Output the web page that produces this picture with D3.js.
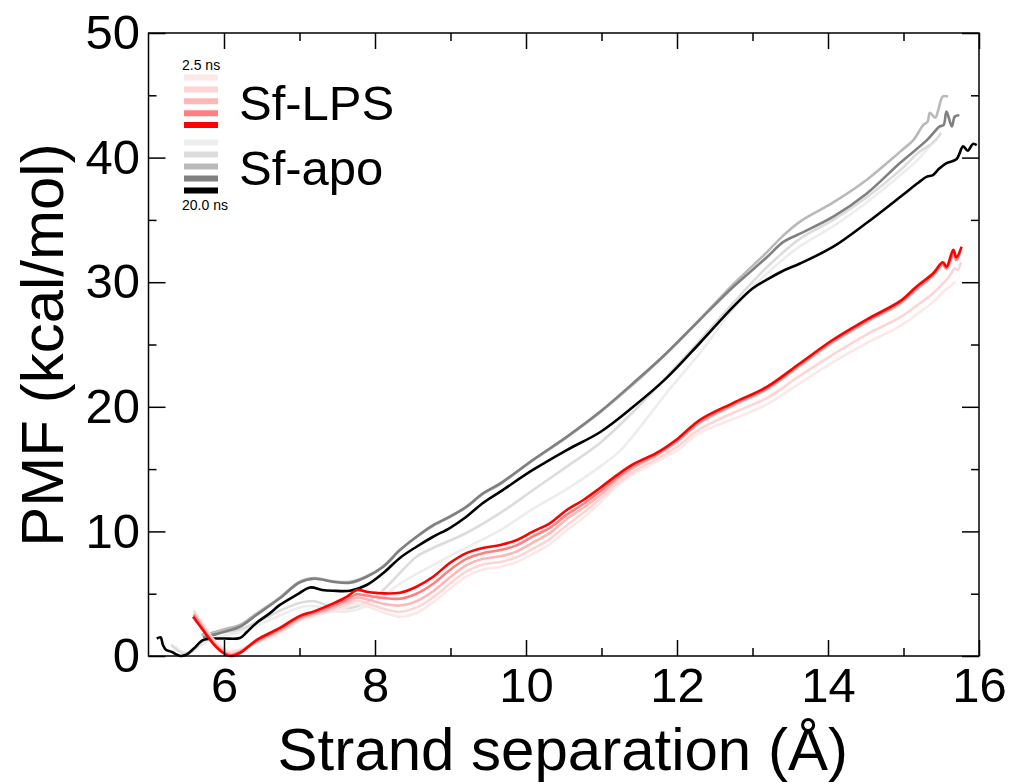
<!DOCTYPE html>
<html>
<head>
<meta charset="utf-8">
<script src="https://cdn.jsdelivr.net/npm/d3@7/dist/d3.min.js"></script>
<style>
  html, body { margin: 0; padding: 0; background: #fff; }
  svg { display: block; font-family: "Liberation Sans", Arial, Helvetica, sans-serif; }
</style>
</head>
<body>
<div id="chart"></div>
<script>
// PMF vs strand separation, Sf-LPS and Sf-apo at increasing sampling times

var xTicks = [6, 8, 10, 12, 14, 16];
var xMinor = [7, 9, 11, 13, 15];
var yTicks = [0, 10, 20, 30, 40, 50];
var yMinor = [5, 15, 25, 35, 45];

// Sf-LPS (red family), points are [separation, PMF]
var lps25 = [[5.6,3.7],[5.72,2.6],[5.85,1.4],[5.99,0.6],[6.08,0.35],[6.21,0.55],[6.43,1.05],[6.74,1.85],[7.0,2.8],[7.2,3.2],[7.44,3.6],[7.63,3.95],[7.76,4.2],[7.89,4.0],[8.11,3.5],[8.33,3.15],[8.55,3.45],[8.77,4.3],[8.99,5.4],[9.21,6.4],[9.43,6.95],[9.66,7.15],[9.88,7.55],[10.09,8.2],[10.32,9.0],[10.54,10.1],[10.76,11.1],[10.98,12.3],[11.2,13.6],[11.42,14.6],[11.73,15.6],[12.0,16.5],[12.3,17.9],[12.74,19.0],[13.19,20.2],[13.63,21.9],[14.07,23.6],[14.51,25.1],[14.96,26.5],[15.17,27.4],[15.39,28.4],[15.52,29.2],[15.6,29.6],[15.68,30.0]];
var lps5 = [[5.6,3.6],[5.72,2.5],[5.85,1.3],[5.99,0.5],[6.08,0.25],[6.21,0.45],[6.43,1.1],[6.74,1.95],[7.0,2.9],[7.2,3.3],[7.44,3.75],[7.63,4.15],[7.76,4.45],[7.89,4.25],[8.11,3.8],[8.33,3.55],[8.55,3.9],[8.77,4.7],[8.99,5.8],[9.21,6.8],[9.43,7.35],[9.66,7.55],[9.88,7.95],[10.09,8.6],[10.32,9.4],[10.54,10.5],[10.76,11.5],[10.98,12.6],[11.2,13.8],[11.42,14.8],[11.73,15.8],[12.0,16.8],[12.3,18.2],[12.74,19.5],[13.19,20.7],[13.63,22.5],[14.07,24.2],[14.51,25.8],[14.96,27.2],[15.17,28.1],[15.39,29.1],[15.52,29.9],[15.6,30.4],[15.68,31.1],[15.72,31.0],[15.76,31.6]];
var lps10 = [[5.6,3.4],[5.72,2.3],[5.85,1.2],[5.99,0.4],[6.08,0.15],[6.21,0.35],[6.43,1.15],[6.74,2.05],[7.0,3.0],[7.2,3.4],[7.44,3.9],[7.63,4.35],[7.76,4.7],[7.89,4.55],[8.11,4.2],[8.33,4.05],[8.55,4.4],[8.77,5.2],[8.99,6.3],[9.21,7.3],[9.43,7.8],[9.66,8.0],[9.88,8.4],[10.09,9.1],[10.32,9.9],[10.54,11.0],[10.76,11.9],[10.98,12.9],[11.2,14.1],[11.42,15.1],[11.73,16.1],[12.0,17.2],[12.3,18.7],[12.74,20.1],[13.19,21.4],[13.63,23.3],[14.07,25.2],[14.51,26.8],[14.96,28.3],[15.17,29.4],[15.39,30.5],[15.52,31.4],[15.57,31.1],[15.66,32.1],[15.7,31.7]];
var lps15 = [[5.6,3.3],[5.72,2.2],[5.85,1.1],[5.99,0.3],[6.08,0.05],[6.21,0.3],[6.43,1.2],[6.74,2.15],[7.0,3.1],[7.2,3.5],[7.44,4.05],[7.63,4.55],[7.76,4.95],[7.89,4.85],[8.11,4.65],[8.33,4.6],[8.55,5.0],[8.77,5.8],[8.99,6.9],[9.21,7.8],[9.43,8.25],[9.66,8.5],[9.88,8.9],[10.09,9.6],[10.32,10.3],[10.54,11.35],[10.76,12.2],[10.98,13.2],[11.2,14.3],[11.42,15.25],[11.73,16.2],[12.0,17.3],[12.3,18.8],[12.74,20.2],[13.19,21.5],[13.63,23.4],[14.07,25.3],[14.51,26.9],[14.96,28.4],[15.17,29.5],[15.39,30.6],[15.52,31.4],[15.57,31.1],[15.66,32.3],[15.7,31.8],[15.75,32.4]];
var lps20 = [[5.59,3.15],[5.72,2.09],[5.85,1.04],[5.99,0.24],[6.08,0.0],[6.21,0.24],[6.43,1.28],[6.74,2.25],[7.0,3.2],[7.2,3.6],[7.44,4.2],[7.63,4.76],[7.76,5.3],[7.89,5.16],[8.11,5.03],[8.33,5.08],[8.55,5.56],[8.77,6.36],[8.99,7.46],[9.21,8.26],[9.43,8.67],[9.66,8.91],[9.88,9.31],[10.09,9.98],[10.32,10.67],[10.54,11.72],[10.76,12.52],[10.98,13.48],[11.2,14.5],[11.42,15.4],[11.73,16.3],[12.0,17.4],[12.3,18.94],[12.74,20.3],[13.19,21.6],[13.63,23.5],[14.07,25.4],[14.51,27.0],[14.96,28.5],[15.17,29.64],[15.39,30.7],[15.52,31.6],[15.57,31.25],[15.66,32.6],[15.7,32.0],[15.77,32.85]];

// Sf-apo (grey family)
var apo25 = [[5.35,0.8],[5.45,0.3],[5.55,0.2],[5.7,0.9],[5.9,1.5],[6.2,1.9],[6.5,2.6],[6.8,3.4],[7.0,3.9],[7.2,4.0],[7.44,3.6],[7.67,3.6],[7.89,4.0],[8.11,4.8],[8.33,5.8],[8.77,7.3],[9.21,8.7],[9.66,10.1],[10.09,11.8],[10.54,13.4],[10.98,15.2],[11.25,16.5],[11.86,21.1],[12.3,24.3],[12.74,27.8],[13.05,29.9],[13.4,31.8],[13.63,32.9],[14.07,34.5],[14.51,36.4],[14.96,38.6],[15.2,39.9],[15.39,41.2],[15.45,41.5]];
var apo5 = [[5.3,0.9],[5.4,0.4],[5.5,0.2],[5.62,0.6],[5.8,1.6],[6.0,1.9],[6.2,2.1],[6.5,2.9],[6.8,3.8],[7.0,4.25],[7.2,4.4],[7.44,3.9],[7.67,3.85],[7.89,4.3],[8.11,5.3],[8.33,6.66],[8.55,7.97],[8.77,8.67],[9.21,9.87],[9.66,11.48],[10.09,13.3],[10.54,15.2],[10.98,17.1],[11.42,19.6],[11.86,22.4],[12.3,25.3],[12.74,28.3],[13.19,31.2],[13.63,33.5],[14.07,35.0],[14.51,36.8],[14.96,39.0],[15.2,40.4],[15.39,41.2],[15.5,42.0]];
var apo10 = [[5.7,1.7],[5.8,1.8],[6.04,2.2],[6.21,2.5],[6.43,3.4],[6.74,4.7],[7.0,5.95],[7.2,6.25],[7.44,6.0],[7.67,5.95],[7.89,6.4],[8.11,7.2],[8.33,8.5],[8.55,9.55],[8.77,10.45],[8.99,11.15],[9.21,11.95],[9.43,13.0],[9.66,13.8],[10.09,15.7],[10.54,17.55],[10.98,19.55],[11.42,21.8],[11.86,24.3],[12.3,27.0],[12.74,29.8],[13.19,32.4],[13.4,33.7],[13.63,34.86],[14.07,36.4],[14.51,38.2],[14.96,40.5],[15.13,41.4],[15.26,42.6],[15.32,42.9],[15.35,43.6],[15.42,43.2],[15.46,43.8],[15.52,44.9],[15.59,44.9]];
var apo15 = [[5.72,1.5],[5.77,1.55],[6.04,2.0],[6.21,2.35],[6.43,3.29],[6.74,4.63],[7.0,5.9],[7.2,6.2],[7.44,5.96],[7.67,5.88],[7.89,6.36],[8.11,7.17],[8.33,8.5],[8.55,9.57],[8.77,10.5],[8.99,11.18],[9.21,11.98],[9.43,13.06],[9.66,13.86],[10.09,15.73],[10.54,17.6],[10.98,19.6],[11.42,21.9],[11.86,24.3],[12.3,26.97],[12.74,29.6],[13.19,32.0],[13.4,33.2],[13.63,33.9],[14.07,35.26],[14.51,37.1],[14.96,39.6],[15.31,41.4],[15.48,42.5],[15.53,42.6],[15.57,43.7],[15.64,42.5],[15.68,43.3],[15.74,43.4]];
var apo20 = [[5.11,1.4],[5.16,1.5],[5.19,0.9],[5.23,0.5],[5.3,0.35],[5.36,0.15],[5.42,0.0],[5.5,0.1],[5.6,0.6],[5.72,1.28],[5.85,1.4],[6.0,1.4],[6.21,1.45],[6.3,1.9],[6.43,2.65],[6.6,3.4],[6.74,4.1],[6.96,4.9],[7.14,5.5],[7.3,5.3],[7.44,5.24],[7.67,5.24],[7.89,5.7],[8.11,6.66],[8.33,7.87],[8.55,8.77],[8.77,9.57],[8.99,10.27],[9.21,11.18],[9.43,12.28],[9.66,13.19],[10.09,14.93],[10.54,16.53],[10.99,18.0],[11.42,20.0],[11.86,22.3],[12.3,25.1],[12.74,28.0],[13.0,29.5],[13.19,30.2],[13.4,30.9],[13.63,31.5],[14.07,32.85],[14.51,34.75],[14.96,36.86],[15.2,38.0],[15.31,38.47],[15.39,38.6],[15.47,39.1],[15.57,39.56],[15.7,39.86],[15.79,40.9],[15.85,40.55],[15.92,41.1],[15.97,41.0]];

var lpsColors = ['#fde8e8', '#ffd4d4', '#ffb6b6', '#ff8080', '#ff0000'];
var apoColors = ['#ededed', '#dcdcdc', '#b9b9b9', '#808080', '#000000'];
var lpsSeries = [lps25, lps5, lps10, lps15, lps20];
var apoSeries = [apo25, apo5, apo10, apo15, apo20];

var W = 1014, H = 784;
var plotLeft = 148.5, plotRight = 979, plotTop = 33, plotBottom = 656;

var svg = d3.select('#chart').append('svg')
    .attr('width', W)
    .attr('height', H);

var x = d3.scaleLinear().domain([5, 16]).range([plotLeft, plotRight]);
var y = d3.scaleLinear().domain([0, 50]).range([plotBottom, plotTop]);

var line = d3.line()
    .curve(d3.curveCatmullRom.alpha(0.5))
    .x(function (d) { return x(d[0]); })
    .y(function (d) { return y(d[1]); });

// curves: apo first, then LPS, light to dark inside each group
var curves = svg.append('g').attr('fill', 'none').attr('stroke-width', 2.6)
    .attr('stroke-linejoin', 'round');
apoSeries.forEach(function (s, i) {
    curves.append('path').attr('d', line(s)).attr('stroke', apoColors[i]);
});
lpsSeries.forEach(function (s, i) {
    curves.append('path').attr('d', line(s)).attr('stroke', lpsColors[i]);
});

// axes with inward ticks on all four sides
function styleAxis(g) {
    g.select('.domain').remove();
    g.selectAll('.tick line').attr('stroke', '#000').attr('stroke-width', 1.5);
    g.selectAll('text').attr('font-size', 49).attr('fill', '#000')
        .attr('font-family', '"Liberation Sans", Arial, sans-serif');
}

svg.append('g').attr('transform', 'translate(0,' + plotBottom + ')')
    .call(d3.axisBottom(x).tickValues(xTicks).tickSize(-16).tickPadding(11).tickFormat(d3.format('d')))
    .call(styleAxis);
svg.append('g').attr('transform', 'translate(0,' + plotBottom + ')')
    .call(d3.axisBottom(x).tickValues(xMinor).tickSize(-8).tickFormat(''))
    .call(styleAxis);
svg.append('g').attr('transform', 'translate(0,' + plotTop + ')')
    .call(d3.axisTop(x).tickValues(xTicks).tickSize(-16).tickFormat(''))
    .call(styleAxis);
svg.append('g').attr('transform', 'translate(0,' + plotTop + ')')
    .call(d3.axisTop(x).tickValues(xMinor).tickSize(-8).tickFormat(''))
    .call(styleAxis);

svg.append('g').attr('transform', 'translate(' + plotLeft + ',0)')
    .call(d3.axisLeft(y).tickValues(yTicks).tickSize(-17).tickPadding(8.5).tickFormat(d3.format('d')))
    .call(styleAxis);
svg.append('g').attr('transform', 'translate(' + plotLeft + ',0)')
    .call(d3.axisLeft(y).tickValues(yMinor).tickSize(-8).tickFormat(''))
    .call(styleAxis);
svg.append('g').attr('transform', 'translate(' + plotRight + ',0)')
    .call(d3.axisRight(y).tickValues(yTicks).tickSize(-17).tickFormat(''))
    .call(styleAxis);
svg.append('g').attr('transform', 'translate(' + plotRight + ',0)')
    .call(d3.axisRight(y).tickValues(yMinor).tickSize(-8).tickFormat(''))
    .call(styleAxis);

// frame
svg.append('rect')
    .attr('x', plotLeft).attr('y', plotTop)
    .attr('width', plotRight - plotLeft).attr('height', plotBottom - plotTop)
    .attr('fill', 'none').attr('stroke', '#000').attr('stroke-width', 1.5);

// axis titles
svg.append('text')
    .attr('x', (plotLeft + plotRight) / 2 - 1).attr('y', 770)
    .attr('text-anchor', 'middle').attr('font-size', 60)
    .text('Strand separation (Å)');

svg.append('text')
    .attr('transform', 'translate(63,345) rotate(-90)')
    .attr('text-anchor', 'middle').attr('font-size', 60)
    .text('PMF (kcal/mol)');

// legend
var legend = svg.append('g');
var swatchX0 = 184, swatchX1 = 218;
lpsColors.forEach(function (c, i) {
    legend.append('line')
        .attr('x1', swatchX0).attr('x2', swatchX1)
        .attr('y1', 77.5 + i * 11.9).attr('y2', 77.5 + i * 11.9)
        .attr('stroke', c).attr('stroke-width', 6);
});
apoColors.forEach(function (c, i) {
    legend.append('line')
        .attr('x1', swatchX0).attr('x2', swatchX1)
        .attr('y1', 142.5 + i * 12).attr('y2', 142.5 + i * 12)
        .attr('stroke', c).attr('stroke-width', 6);
});
legend.append('text').attr('x', 182).attr('y', 70).attr('font-size', 14).text('2.5 ns');
legend.append('text').attr('x', 182).attr('y', 210).attr('font-size', 14).text('20.0 ns');
legend.append('text').attr('x', 239).attr('y', 120).attr('font-size', 49).text('Sf-LPS');
legend.append('text').attr('x', 239).attr('y', 185).attr('font-size', 49).text('Sf-apo');
</script>
</body>
</html>
